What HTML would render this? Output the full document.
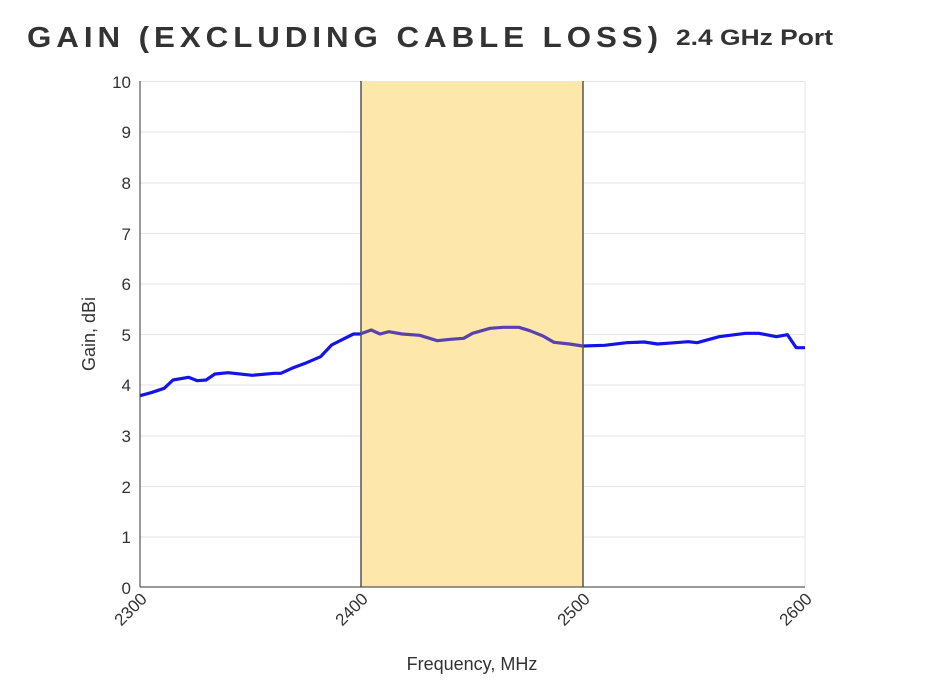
<!DOCTYPE html>
<html><head><style>
body{margin:0;background:#fff;width:933px;height:700px;overflow:hidden;font-family:"Liberation Sans",sans-serif}
</style></head><body>
<svg width="933" height="700" xmlns="http://www.w3.org/2000/svg" style="position:absolute;left:0;top:0">
<defs><clipPath id="band"><rect x="361" y="81" width="222" height="506"/></clipPath></defs>
<text x="27" y="47" font-family="Liberation Sans" font-weight="bold" font-size="29" letter-spacing="4.6" fill="#333" textLength="636" lengthAdjust="spacingAndGlyphs">GAIN (EXCLUDING CABLE LOSS)</text>
<text x="676" y="45" font-family="Liberation Sans" font-weight="bold" font-size="22" fill="#333" textLength="157" lengthAdjust="spacingAndGlyphs">2.4 GHz Port</text>
<g stroke="#e6e6e6" stroke-width="1">
<line x1="140" x2="805" y1="81.5" y2="81.5"/><line x1="140" x2="805" y1="132" y2="132"/>
<line x1="140" x2="805" y1="183" y2="183"/><line x1="140" x2="805" y1="233.5" y2="233.5"/>
<line x1="140" x2="805" y1="284" y2="284"/><line x1="140" x2="805" y1="334.5" y2="334.5"/>
<line x1="140" x2="805" y1="385" y2="385"/><line x1="140" x2="805" y1="436" y2="436"/>
<line x1="140" x2="805" y1="486.5" y2="486.5"/><line x1="140" x2="805" y1="537" y2="537"/>
<line x1="805" x2="805" y1="81" y2="587"/>
</g>
<polyline fill="none" stroke="#1414e6" stroke-width="3.2" stroke-linejoin="round" points="140,395.7 151,392.7 164.2,388.3 173,380 188.5,377.3 197.3,380.7 206.1,380 214.9,374 228.1,372.7 252.3,375.3 274.3,373.3 280.9,373.3 291.9,368.3 305.2,363.3 320.6,356.7 331.6,345 344.8,338.3 353.6,334 360.2,334 371.2,330 380,334 388.8,331.7 402,334 419.7,335.3 437.3,340.7 450.5,339.3 463.7,338.3 472.5,333.3 490.1,328.3 503.3,327.3 518.8,327.3 529.8,330.7 543,336 554,342.3 569.4,344 582.6,346 604.6,345.3 626.7,342.7 644.3,342 657.5,344 675.1,342.7 688.3,341.7 697.1,342.7 719.1,336.7 745.6,333.3 758.8,333.3 776.4,336.7 787.4,334.7 796.2,347.7 805,347.7"/>
<rect x="361" y="81" width="222" height="506" fill="#fde7aa"/>
<g clip-path="url(#band)">
<polyline fill="none" stroke="#5a42ae" stroke-width="3.2" stroke-linejoin="round" points="353.6,334 360.2,334 371.2,330 380,334 388.8,331.7 402,334 419.7,335.3 437.3,340.7 450.5,339.3 463.7,338.3 472.5,333.3 490.1,328.3 503.3,327.3 518.8,327.3 529.8,330.7 543,336 554,342.3 569.4,344 582.6,346 604.6,345.3"/>
</g>
<line x1="361" x2="361" y1="81" y2="587" stroke="#555" stroke-width="1.5"/>
<line x1="583" x2="583" y1="81" y2="587" stroke="#555" stroke-width="1.5"/>
<line x1="140" x2="140" y1="81" y2="587" stroke="#333" stroke-width="1"/>
<line x1="140" x2="805" y1="587" y2="587" stroke="#333" stroke-width="1"/>
<g font-size="17" fill="#333" text-anchor="end" font-family="Liberation Sans">
<text x="131" y="88">10</text><text x="131" y="138">9</text><text x="131" y="189">8</text>
<text x="131" y="240">7</text><text x="131" y="290">6</text><text x="131" y="341">5</text>
<text x="131" y="391">4</text><text x="131" y="442">3</text><text x="131" y="493">2</text>
<text x="131" y="543">1</text><text x="131" y="594">0</text>
</g>
<g font-size="17" fill="#333" text-anchor="end" font-family="Liberation Sans">
<text transform="translate(148,600) rotate(-45)">2300</text>
<text transform="translate(369,600) rotate(-45)">2400</text>
<text transform="translate(591,600) rotate(-45)">2500</text>
<text transform="translate(813,600) rotate(-45)">2600</text>
</g>
<text x="472" y="670" font-size="18" fill="#333" text-anchor="middle" font-family="Liberation Sans">Frequency, MHz</text>
<text transform="translate(95,334) rotate(-90)" font-size="18" fill="#333" text-anchor="middle" font-family="Liberation Sans">Gain, dBi</text>
</svg>
</body></html>
